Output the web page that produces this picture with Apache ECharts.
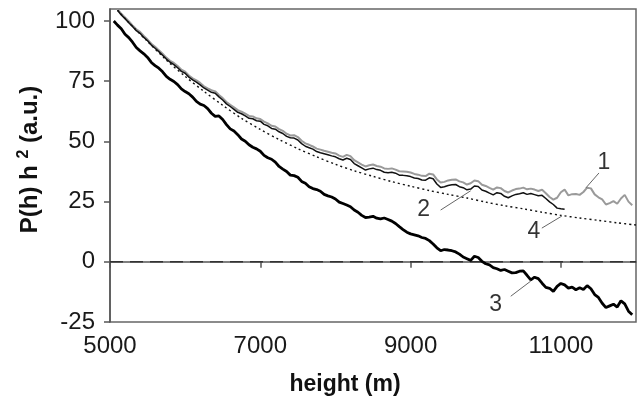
<!DOCTYPE html>
<html><head><meta charset="utf-8">
<script src="https://cdn.jsdelivr.net/npm/echarts@6/dist/echarts.min.js"></script>
<style>html,body{margin:0;padding:0;background:#fff}#c{width:641px;height:407px}</style>
</head><body><div id="c"></div>
<script>
// ---- tick labels ----
const xTicks = [5000, 7000, 9000, 11000];
const yTicks = [-25, 0, 25, 50, 75, 100];

// ---- curve 1 (grey), heights 5100..11950 every 50 m ----
const heights1 = [5100,5150,5200,5250,5300,5350,5400,5450,5500,5550,5600,5650,5700,5750,5800,5850,5900,5950,6000,6050,
  6100,6150,6200,6250,6300,6350,6400,6450,6500,6550,6600,6650,6700,6750,6800,6850,6900,6950,7000,7050,
  7100,7150,7200,7250,7300,7350,7400,7450,7500,7550,7600,7650,7700,7750,7800,7850,7900,7950,8000,8050,
  8100,8150,8200,8250,8300,8350,8400,8450,8500,8550,8600,8650,8700,8750,8800,8850,8900,8950,9000,9050,
  9100,9150,9200,9250,9300,9350,9400,9450,9500,9550,9600,9650,9700,9750,9800,9850,9900,9950,10000,10050,
  10100,10150,10200,10250,10300,10350,10400,10450,10500,10550,10600,10650,10700,10750,10800,10850,10900,10950,11000,11050,
  11100,11150,11200,11250,11300,11350,11400,11450,11500,11550,11600,11650,11700,11750,11800,11850,11900,11950];
const values1 = [105.0,103.0,101.5,99.9,98.2,96.6,95.5,93.8,92.3,90.6,89.3,87.9,86.4,84.8,83.5,82.6,81.3,79.8,79.0,77.4,
  76.2,75.4,74.3,72.9,72.0,71.3,70.8,69.3,68.0,66.4,65.2,64.2,63.0,62.4,61.5,60.6,60.4,59.6,59.3,58.2,
  57.5,56.5,56.2,55.1,54.4,53.2,52.5,52.6,51.8,50.3,49.2,48.6,47.9,47.0,46.6,46.1,45.7,45.3,45.0,44.1,
  43.6,44.4,43.9,42.2,41.3,40.4,39.6,40.1,40.4,39.8,39.5,38.8,38.6,38.8,38.3,37.6,37.5,37.4,37.1,36.5,
  36.2,35.7,35.6,36.6,36.3,34.2,32.9,33.2,33.8,34.1,34.2,33.4,33.0,32.1,32.6,33.8,33.5,32.0,31.5,30.7,
  30.0,30.9,30.6,29.4,28.8,29.6,30.2,30.4,30.8,30.1,30.4,30.0,29.4,29.9,28.5,26.9,25.8,26.6,28.9,30.0,
  27.6,28.1,28.2,27.8,29.0,30.8,30.5,28.0,26.8,25.9,23.8,24.4,25.2,24.1,26.3,27.8,25.0,23.5];

// ---- curve 2 (black, thin), heights 5100..11050 every 50 m ----
const heights2 = [5100,5150,5200,5250,5300,5350,5400,5450,5500,5550,5600,5650,5700,5750,5800,5850,5900,5950,6000,6050,
  6100,6150,6200,6250,6300,6350,6400,6450,6500,6550,6600,6650,6700,6750,6800,6850,6900,6950,7000,7050,
  7100,7150,7200,7250,7300,7350,7400,7450,7500,7550,7600,7650,7700,7750,7800,7850,7900,7950,8000,8050,
  8100,8150,8200,8250,8300,8350,8400,8450,8500,8550,8600,8650,8700,8750,8800,8850,8900,8950,9000,9050,
  9100,9150,9200,9250,9300,9350,9400,9450,9500,9550,9600,9650,9700,9750,9800,9850,9900,9950,10000,10050,
  10100,10150,10200,10250,10300,10350,10400,10450,10500,10550,10600,10650,10700,10750,10800,10850,10900,10950,11000,11050];
const values2 = [104.5,102.5,101.0,99.3,97.7,96.0,94.9,93.2,91.8,90.0,88.7,87.3,85.8,84.2,82.9,81.9,80.6,79.1,78.3,76.7,
  75.6,74.6,73.5,72.2,71.3,70.4,70.0,68.5,67.2,65.6,64.5,63.3,62.1,61.5,60.6,59.6,59.4,58.6,58.4,57.1,
  56.5,55.4,55.1,54.0,53.3,52.1,51.5,51.4,50.6,49.1,48.0,47.4,46.8,45.8,45.3,44.9,44.5,44.0,43.6,42.8,
  42.3,43.0,42.5,40.8,39.9,39.0,38.1,38.6,38.9,38.3,38.0,37.2,37.0,37.2,36.8,36.0,35.9,35.7,35.4,34.8,
  34.6,34.0,33.9,34.9,34.5,32.3,30.9,31.2,31.7,32.0,32.1,31.2,30.8,29.9,30.2,31.5,31.3,29.8,29.3,28.5,
  27.8,28.7,28.4,27.2,26.6,27.4,28.0,28.3,28.7,28.0,28.4,27.9,27.4,27.6,26.3,24.9,23.8,22.3,22.0,21.8];

// ---- curve 3 (black, thick), heights 5050..11950 every 50 m ----
const heights3 = [5050,5100,5150,5200,5250,5300,5350,5400,5450,5500,5550,5600,5650,5700,5750,5800,5850,5900,5950,6000,
  6050,6100,6150,6200,6250,6300,6350,6400,6450,6500,6550,6600,6650,6700,6750,6800,6850,6900,6950,7000,
  7050,7100,7150,7200,7250,7300,7350,7400,7450,7500,7550,7600,7650,7700,7750,7800,7850,7900,7950,8000,
  8050,8100,8150,8200,8250,8300,8350,8400,8450,8500,8550,8600,8650,8700,8750,8800,8850,8900,8950,9000,
  9050,9100,9150,9200,9250,9300,9350,9400,9450,9500,9550,9600,9650,9700,9750,9800,9850,9900,9950,10000,
  10050,10100,10150,10200,10250,10300,10350,10400,10450,10500,10550,10600,10650,10700,10750,10800,10850,10900,10950,11000,
  11050,11100,11150,11200,11250,11300,11350,11400,11450,11500,11550,11600,11650,11700,11750,11800,11850,11900,11950];
const values3 = [100.0,98.3,96.8,94.5,93.1,91.2,89.0,87.6,86.4,84.9,82.8,81.5,80.4,78.9,77.0,75.8,74.9,73.6,71.8,70.7,
  69.8,68.4,66.6,65.5,64.9,63.6,61.7,60.4,60.6,59.1,57.0,55.2,54.3,52.8,51.0,50.1,48.6,47.6,46.9,45.9,
  44.2,43.2,42.6,41.4,39.6,38.5,37.5,36.0,35.8,35.1,33.4,32.6,31.2,30.4,30.0,29.3,28.0,27.4,26.9,26.1,
  24.8,24.2,23.6,22.9,21.5,20.6,19.3,18.4,18.6,18.9,18.1,17.8,18.2,17.6,16.9,15.9,14.6,13.4,12.3,11.6,
  11.2,10.8,10.1,9.7,8.8,7.4,5.8,4.6,5.1,4.9,4.6,4.1,3.2,2.0,1.3,0.6,2.3,1.8,0.2,-0.8,
  -1.3,-2.4,-2.9,-3.6,-3.2,-3.9,-4.6,-4.5,-3.9,-3.8,-5.6,-7.5,-6.4,-7.0,-8.9,-10.6,-11.0,-12.3,-10.2,-9.0,
  -9.6,-10.9,-10.5,-11.6,-10.8,-11.5,-9.9,-11.2,-13.6,-14.8,-17.2,-19.0,-18.3,-17.6,-18.8,-16.2,-17.5,-20.5,-22.0];

// ---- curve 4 (dotted fit) ----
const heights4 = [5100,5250,5500,5750,6000,6250,6500,6750,7000,7250,7500,7750,8000,8250,8500,8750,9000,9250,9500,9750,
  10000,10250,10500,10750,11000,11250,11500,11750,12000];
const values4 = [104.5,99.4,91.5,83.8,77.0,70.8,65.0,59.6,55.0,50.8,47.0,43.6,40.5,37.8,35.5,33.3,31.4,29.6,28.0,26.5,
  24.8,23.3,22.0,20.6,19.3,18.2,17.2,16.2,15.3];

// ---- zero reference line ----
const zeroX = [5000, 12000];
const zeroY = [0, 0];

// ---- curve labels (data coords) and leader lines ----
const labelTexts = ['1', '2', '3', '4'];
const labelX = [11573, 9173, 10133, 10640];
const labelY = [41.1, 21.5, -17.6, 12.4];
const leaderFromX = [11507, 9400, 10333, 10747];
const leaderFromY = [36.9, 21.5, -14.3, 14.0];
const leaderToX = [11333, 9800, 10600, 11013];
const leaderToY = [30.7, 29.5, -8.0, 19.0];

const zip = (xs, ys) => xs.map((x, i) => [x, ys[i]]);
const FONT = 'Liberation Sans, Arial, sans-serif';
const axisColor = '#555';

const chart = echarts.init(document.getElementById('c'), null, {renderer: 'canvas'});
chart.setOption({
  animation: false,
  backgroundColor: '#fff',
  grid: {left: 110, right: 5, top: 9, bottom: 85, show: true, borderColor: '#666', borderWidth: 1.5},
  xAxis: {
    type: 'value', min: 5000, max: 12000,
    axisLine: {show: true, lineStyle: {color: axisColor, width: 1.5}},
    axisTick: {show: true, length: 6, customValues: xTicks, lineStyle: {color: axisColor, width: 1.5}},
    axisLabel: {customValues: xTicks, formatter: v => String(v), fontSize: 24, color: '#1a1a1a', fontFamily: FONT, margin: 12},
    splitLine: {show: false},
    name: 'height (m)', nameLocation: 'middle', nameGap: 51,
    nameTextStyle: {fontSize: 23, fontWeight: 'bold', color: '#111', fontFamily: FONT, padding: [0, 56, 0, 0]}
  },
  yAxis: {
    type: 'value', min: -25, max: 105,
    axisLine: {show: true, lineStyle: {color: axisColor, width: 1.5}},
    axisTick: {show: true, length: 6, customValues: yTicks, lineStyle: {color: axisColor, width: 1.5}},
    axisLabel: {customValues: yTicks, formatter: v => String(v), fontSize: 24, color: '#1a1a1a', fontFamily: FONT, margin: 15},
    splitLine: {show: false},
    name: '{b|P(h) h }{s|2}{b| (a.u.)}', nameLocation: 'middle', nameGap: 66,
    nameTextStyle: {
      fontFamily: FONT, color: '#111', padding: [0, 0, 0, 12],
      rich: {
        b: {fontSize: 24, fontWeight: 'bold', fontFamily: FONT, color: '#111', lineHeight: 28},
        s: {fontSize: 16, fontWeight: 'bold', fontFamily: FONT, color: '#111', verticalAlign: 'top', padding: [0, 0, 8, 0]}
      }
    }
  },
  series: [
    {type: 'line', name: '1', data: zip(heights1, values1), showSymbol: false, symbol: 'none',
      lineStyle: {color: '#9a9a9a', width: 2}, z: 2},
    {type: 'line', name: '2', data: zip(heights2, values2), showSymbol: false, symbol: 'none',
      lineStyle: {color: '#111', width: 1.5}, z: 3},
    {type: 'line', name: '4', data: zip(heights4, values4), showSymbol: false, symbol: 'none', smooth: 0.3,
      lineStyle: {color: '#111', width: 1.4, type: [2, 3]}, z: 3},
    {type: 'line', name: '3', data: zip(heights3, values3), showSymbol: false, symbol: 'none',
      lineStyle: {color: '#000', width: 2.8}, z: 4},
    {type: 'line', name: 'zero', data: zip(zeroX, zeroY), showSymbol: false, symbol: 'none',
      lineStyle: {color: '#333', width: 1.5, type: [13, 7]}, z: 1},
    {type: 'lines', coordinateSystem: 'cartesian2d', polyline: false, silent: true,
      data: leaderFromX.map((x, i) => ({coords: [[x, leaderFromY[i]], [leaderToX[i], leaderToY[i]]]})),
      lineStyle: {color: '#666', width: 1, opacity: 1}, z: 5},
    {type: 'scatter', symbolSize: 0, silent: true,
      data: labelX.map((x, i) => [x, labelY[i], labelTexts[i]]),
      label: {show: true, position: 'inside', formatter: p => p.value[2], fontSize: 23, color: '#000', fontFamily: FONT},
      z: 6}
  ]
});
</script></body></html>
